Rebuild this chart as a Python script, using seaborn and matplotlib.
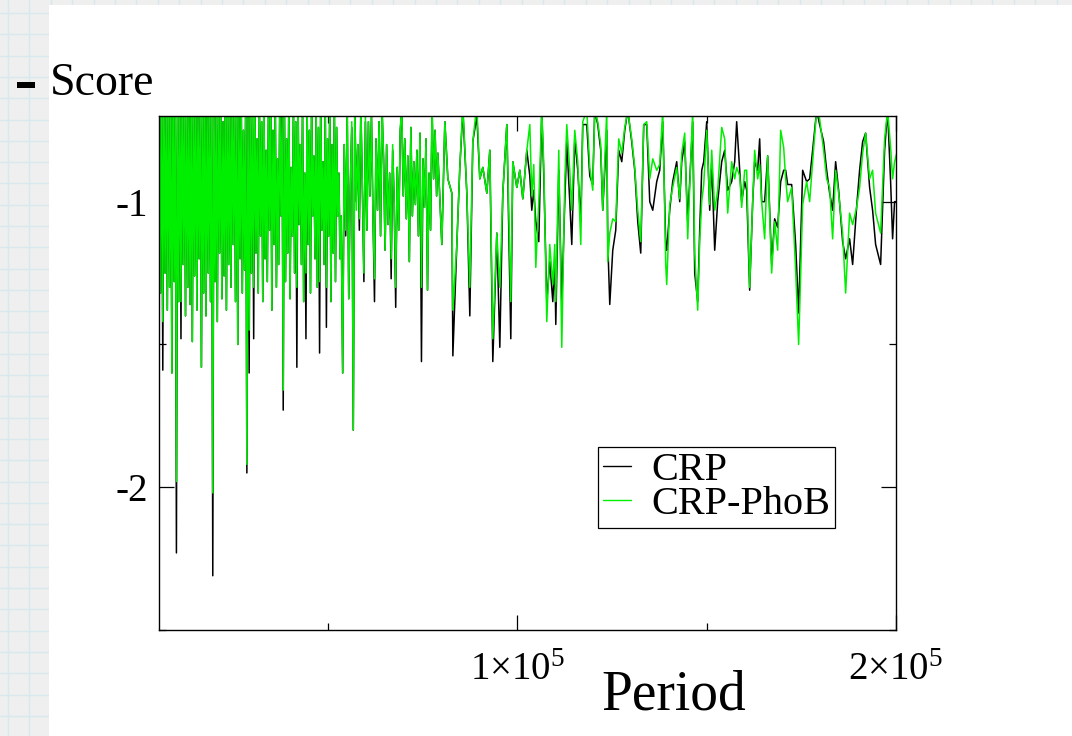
import numpy as np
import pandas as pd
import seaborn as sns
import matplotlib.pyplot as plt
import matplotlib.ticker as mticker
from matplotlib.lines import Line2D
from matplotlib.patches import Rectangle

# Period values are kept in thousands (x1000 when plotted)

# short periods: very dense part of the scan
period_a = [
    5.5, 5.8, 6.1, 6.4, 6.7, 7.0, 7.3, 7.6, 7.9, 8.2,
    8.5, 8.8, 9.1, 9.4, 9.7, 10.0, 10.3, 10.6, 10.9, 11.2,
    11.5, 11.8, 12.1, 12.4, 12.7, 13.0, 13.3, 13.6, 13.9, 14.2,
    14.5, 14.8, 15.1, 15.4, 15.7, 16.0, 16.3, 16.6, 16.9, 17.2,
    17.5, 17.8, 18.1, 18.4, 18.7, 19.0, 19.3, 19.6, 19.9, 20.2,
    20.5, 20.8, 21.1, 21.4, 21.7, 22.0, 22.3, 22.6, 22.9, 23.2,
    23.5, 23.8, 24.1, 24.4, 24.7, 25.0, 25.3, 25.6, 25.9, 26.2,
    26.5, 26.8, 27.1, 27.4, 27.7, 28.0, 28.3, 28.6, 28.9, 29.2,
    29.5, 29.8, 30.1, 30.4, 30.7, 31.0, 31.3, 31.6, 31.9, 32.2,
    32.5, 32.8, 33.1, 33.4, 33.7, 34.0, 34.3, 34.6, 34.9, 35.2,
    35.5, 35.8, 36.1, 36.4, 36.7, 37.0, 37.3, 37.6, 37.9, 38.2,
    38.5, 38.8, 39.1, 39.4, 39.7, 40.0, 40.3, 40.6, 40.9, 41.2,
    41.5, 41.8, 42.1, 42.4, 42.7, 43.0, 43.3, 43.6, 43.9, 44.2,
    44.5, 44.8, 45.1, 45.4, 45.7, 46.0, 46.3, 46.6, 46.9, 47.2,
    47.5, 47.8, 48.1, 48.4, 48.7, 49.0, 49.3, 49.6, 49.9, 50.2,
    50.5, 50.8, 51.1, 51.4, 51.7, 52.0, 52.3, 52.6, 52.9, 53.2,
]
phob_a = [
    -0.62, -1.32, -0.58, -1.42, -0.60, -1.25, -0.65, -1.38, -0.57, -1.30,
    -0.63, -1.60, -0.58, -1.28, -0.66, -1.98, -0.60, -1.35, -0.62, -1.35,
    -0.58, -1.22, -0.64, -1.40, -0.60, -1.30, -0.68, -1.36, -0.59, -1.49,
    -0.62, -1.26, -0.57, -1.38, -0.66, -1.20, -0.60, -1.58, -0.63, -1.32,
    -0.58, -1.40, -0.70, -1.25, -0.60, -1.35, -0.62, -2.02, -0.58, -1.28,
    -0.66, -1.42, -0.60, -1.18, -0.64, -1.34, -0.72, -1.26, -0.60, -1.38,
    -0.62, -1.22, -0.68, -1.30, -0.58, -1.15, -0.65, -1.35, -0.62, -1.50,
    -0.70, -1.20, -0.60, -1.32, -0.75, -1.24, -0.62, -1.92, -0.66, -1.45,
    -0.60, -1.25, -0.70, -1.30, -0.62, -1.18, -0.78, -1.32, -0.64, -1.12,
    -0.72, -1.35, -0.60, -1.20, -0.82, -1.28, -0.66, -1.10, -0.62, -1.38,
    -0.75, -1.15, -0.64, -1.30, -0.85, -1.22, -0.62, -1.05, -0.70, -1.66,
    -0.62, -1.28, -0.78, -1.18, -0.60, -1.34, -0.88, -1.12, -0.66, -1.25,
    -0.72, -1.30, -0.62, -1.08, -0.80, -1.22, -0.66, -1.35, -0.90, -1.25,
    -0.64, -1.15, -0.75, -1.32, -0.62, -1.05, -0.84, -1.20, -0.68, -1.30,
    -0.74, -1.28, -0.62, -1.10, -0.86, -1.22, -0.66, -1.30, -0.78, -1.12,
    -0.64, -1.35, -0.80, -1.18, -0.66, -1.28, -0.74, -1.05, -0.90, -1.20,
]
crp_a = [
    -0.62, -1.32, -0.58, -1.59, -0.60, -1.25, -0.65, -1.38, -0.57, -1.30,
    -0.63, -1.60, -0.58, -1.28, -0.66, -2.23, -0.60, -1.35, -0.62, -1.48,
    -0.58, -1.22, -0.64, -1.40, -0.60, -1.30, -0.68, -1.36, -0.59, -1.49,
    -0.62, -1.26, -0.57, -1.38, -0.66, -1.20, -0.60, -1.58, -0.63, -1.32,
    -0.58, -1.40, -0.70, -1.25, -0.60, -1.35, -0.62, -2.31, -0.58, -1.28,
    -0.66, -1.42, -0.60, -1.18, -0.64, -1.34, -0.72, -1.26, -0.60, -1.38,
    -0.62, -1.22, -0.68, -1.30, -0.58, -1.15, -0.65, -1.35, -0.62, -1.50,
    -0.70, -1.20, -0.60, -1.32, -0.75, -1.24, -0.62, -1.95, -0.66, -1.60,
    -0.60, -1.25, -0.70, -1.48, -0.62, -1.18, -0.78, -1.32, -0.64, -1.12,
    -0.72, -1.35, -0.60, -1.20, -0.82, -1.28, -0.66, -1.10, -0.62, -1.38,
    -0.75, -1.15, -0.64, -1.30, -0.85, -1.22, -0.62, -1.05, -0.70, -1.73,
    -0.62, -1.28, -0.78, -1.18, -0.60, -1.34, -0.88, -1.12, -0.66, -1.25,
    -0.72, -1.58, -0.62, -1.08, -0.80, -1.22, -0.66, -1.35, -0.90, -1.48,
    -0.64, -1.15, -0.75, -1.32, -0.62, -1.05, -0.84, -1.20, -0.68, -1.30,
    -0.74, -1.53, -0.62, -1.10, -0.86, -1.22, -0.66, -1.44, -0.78, -1.12,
    -0.64, -1.35, -0.80, -1.18, -0.66, -1.28, -0.74, -1.05, -0.90, -1.20,
]

# middle periods, still dense
period_b1 = [
    53.5, 53.9, 54.3, 54.7, 55.1, 55.5, 55.9, 56.3, 56.7, 57.1,
    57.5, 57.9, 58.3, 58.7, 59.1, 59.5, 59.9, 60.3, 60.7, 61.1,
    61.5, 61.9, 62.3, 62.7, 63.1, 63.5, 63.9, 64.3, 64.7, 65.1,
    65.5, 65.9, 66.3, 66.7, 67.1, 67.5, 67.9, 68.3, 68.7, 69.1,
    69.5, 69.9, 70.3, 70.7, 71.1, 71.5, 71.9, 72.3, 72.7, 73.1,
    73.5, 73.9, 74.3, 74.7, 75.1, 75.5, 75.9, 76.3, 76.7, 77.1,
    77.5, 77.9, 78.3, 78.7,
]
phob_b1 = [
    -1.05, -1.60, -0.80, -1.10, -0.66, -1.34, -0.95, -0.72, -1.80, -0.66,
    -1.03, -0.80, -1.06, -0.66, -0.95, -1.25, -0.70, -1.10, -0.72, -0.98,
    -0.70, -1.05, -1.27, -0.78, -1.03, -0.72, -1.12, -0.66, -0.85, -1.17,
    -0.80, -1.08, -0.90, -1.20, -0.80, -1.00, -1.30, -0.88, -1.10, -0.75,
    -0.66, -0.98, -0.78, -1.06, -0.84, -1.21, -0.74, -1.05, -0.86, -1.01,
    -0.82, -1.12, -0.76, -1.30, -0.85, -1.02, -0.78, -1.31, -0.90, -1.10,
    -0.66, -0.92, -0.75, -0.98,
]
crp_b1 = [
    -1.05, -1.60, -0.80, -1.12, -0.68, -1.34, -0.95, -0.74, -1.80, -0.66,
    -1.00, -0.80, -1.10, -0.68, -0.95, -1.28, -0.72, -1.10, -0.72, -0.98,
    -0.70, -1.05, -1.35, -0.78, -1.03, -0.72, -1.12, -0.68, -0.85, -1.17,
    -0.80, -1.08, -0.90, -1.27, -0.82, -1.00, -1.37, -0.88, -1.10, -0.75,
    -0.68, -0.98, -0.78, -1.06, -0.84, -1.21, -0.74, -1.05, -0.86, -1.01,
    -0.82, -1.12, -0.76, -1.56, -0.85, -1.02, -0.78, -1.31, -0.90, -1.10,
    -0.68, -0.92, -0.75, -0.98,
]

period_b2 = [
    79.03, 80.08, 80.88, 81.67, 82.72, 82.99, 84.04, 84.83, 85.63, 86.68,
    87.47, 88.26, 89.32, 90.11, 90.90, 91.96, 92.75, 93.54, 94.60, 95.39,
    96.18, 97.24, 98.29, 98.82, 99.88, 100.67, 101.46, 102.52,
]
phob_b2 = [
    -0.83, -1.15, -0.72, -0.92, -0.97, -1.38, -1.15, -0.88, -0.66, -0.97,
    -1.30, -0.79, -0.66, -0.92, -0.88, -0.97, -0.82, -1.48, -1.11, -1.30,
    -0.97, -0.73, -1.35, -0.86, -0.95, -0.89, -0.99, -0.82,
]
crp_b2 = [
    -0.83, -1.15, -0.72, -0.92, -0.97, -1.54, -1.15, -0.88, -0.68, -0.97,
    -1.40, -0.79, -0.70, -0.92, -0.88, -0.97, -0.82, -1.56, -1.11, -1.51,
    -0.97, -0.73, -1.48, -0.86, -0.95, -0.89, -0.99, -0.82,
]

# long periods
period_c = [
    103.31, 103.83, 104.36, 104.89, 105.68, 106.47, 107.00, 107.79, 108.58, 109.38,
    109.90, 110.17, 110.96, 111.75, 112.54, 113.07, 113.86, 114.39, 115.18, 115.97,
    116.77, 117.29, 118.35, 119.14, 119.93, 120.46, 121.25, 122.04, 122.57, 123.63,
    123.89, 124.42, 125.21, 126.00, 126.79, 127.59, 128.38, 129.17, 130.22, 131.02,
    131.81, 132.60, 133.39, 134.18, 134.98, 135.77, 136.82, 137.61, 138.41, 139.20,
    139.46, 140.25, 141.04, 142.10, 142.89, 143.42, 144.21, 145.00, 146.32, 146.85,
    147.64, 148.17, 148.70, 149.23, 150.02, 150.81, 151.34, 152.13, 152.92, 153.98,
    154.77, 155.56, 156.61, 157.41, 157.93, 158.73, 159.25, 160.05, 160.57, 161.36,
    162.16, 162.68, 163.48, 164.00, 164.53, 165.32, 166.12, 167.17, 167.96, 168.75,
    169.55, 170.34, 170.87, 171.39, 172.45, 173.50, 174.30, 175.35, 176.41, 177.20,
    177.99, 179.05, 179.84, 180.89, 181.69, 182.48, 183.27, 184.06, 184.85, 185.91,
    186.70, 187.75, 188.55, 189.60, 190.39, 191.19, 191.98, 193.03, 193.82, 194.62,
    195.94, 196.99, 197.78, 198.58, 199.10, 199.63, 200.40,
]
phob_c = [
    -0.73, -0.98, -0.87, -1.23, -1.00, -0.68, -0.87, -1.42, -1.15, -1.29,
    -1.15, -1.35, -0.82, -1.51, -0.93, -0.73, -0.89, -1.03, -0.75, -0.86,
    -1.15, -0.72, -0.68, -0.88, -0.96, -0.68, -0.72, -0.80, -1.03, -0.68,
    -1.21, -1.11, -1.06, -1.07, -0.78, -0.83, -0.74, -0.68, -0.78, -0.88,
    -1.03, -1.14, -0.73, -0.72, -0.92, -0.85, -0.89, -0.87, -0.68, -1.22,
    -1.29, -1.01, -0.95, -0.88, -0.99, -0.83, -0.76, -1.13, -0.68, -1.18,
    -1.38, -1.14, -1.00, -0.94, -0.75, -1.01, -0.82, -1.03, -0.96, -0.74,
    -0.78, -1.04, -0.86, -0.92, -0.88, -0.91, -1.02, -0.89, -0.89, -1.30,
    -1.00, -0.82, -0.92, -0.87, -1.00, -1.13, -0.84, -1.25, -1.07, -1.17,
    -0.75, -0.81, -0.92, -1.00, -0.95, -1.24, -1.50, -1.01, -0.93, -1.00,
    -0.86, -0.68, -0.71, -0.82, -0.92, -0.95, -1.13, -0.89, -0.97, -1.11,
    -1.32, -1.04, -1.08, -1.02, -0.95, -0.83, -0.76, -0.92, -0.89, -1.04,
    -1.11, -0.78, -0.68, -0.81, -0.92, -0.86, -0.82,
]
crp_c = [
    -0.91, -1.03, -0.96, -1.07, -1.14, -0.68, -0.91, -1.35, -1.21, -1.35,
    -1.21, -1.43, -0.89, -1.36, -1.00, -0.79, -1.00, -1.15, -0.78, -0.89,
    -1.07, -0.73, -0.73, -0.91, -0.94, -0.68, -0.73, -0.82, -1.03, -0.75,
    -1.14, -1.36, -1.17, -1.10, -0.82, -0.86, -0.75, -0.68, -0.79, -0.89,
    -1.07, -1.18, -0.73, -0.73, -1.00, -1.03, -0.93, -0.89, -0.72, -1.15,
    -1.17, -1.03, -0.93, -0.86, -1.00, -0.86, -0.79, -1.07, -0.72, -1.25,
    -1.35, -1.10, -0.89, -0.86, -0.72, -1.03, -0.86, -1.17, -1.00, -0.86,
    -0.82, -0.96, -0.93, -0.86, -0.72, -0.89, -1.00, -0.93, -0.96, -1.31,
    -1.00, -0.86, -0.89, -0.78, -1.00, -1.00, -0.84, -1.22, -1.06, -1.09,
    -0.93, -0.89, -0.89, -0.94, -0.94, -1.15, -1.39, -0.89, -0.93, -0.92,
    -0.82, -0.68, -0.73, -0.79, -0.89, -0.97, -1.03, -0.86, -0.96, -1.14,
    -1.20, -1.13, -1.22, -1.02, -0.89, -0.79, -0.76, -0.95, -1.03, -1.15,
    -1.22, -0.82, -0.68, -0.93, -1.13, -1.00, -1.00,
]

x_ticks = [1e5, 2e5]
x_tick_labels = [r"$1{\times}10^{5}$", r"$2{\times}10^{5}$"]
y_ticks = [-2, -1]
y_tick_labels = ["-2", "-1"]

W, H = 1072, 736

sns.set_style("ticks")
plt.rcParams["font.family"] = ["Liberation Serif", "DejaVu Serif"]
plt.rcParams["mathtext.fontset"] = "custom"
plt.rcParams["mathtext.rm"] = "Liberation Serif"
plt.rcParams["mathtext.it"] = "Liberation Serif:italic"
plt.rcParams["mathtext.bf"] = "Liberation Serif:bold"
for key in ["text.color", "axes.labelcolor", "xtick.color", "ytick.color"]:
    plt.rcParams[key] = "black"

period_k = period_a + period_b1 + period_b2 + period_c
crp = crp_a + crp_b1 + crp_b2 + crp_c
phob = phob_a + phob_b1 + phob_b2 + phob_c
assert len(period_a) == len(crp_a) == len(phob_a)
assert len(period_b1) == len(crp_b1) == len(phob_b1)
assert len(period_b2) == len(crp_b2) == len(phob_b2)
assert len(period_c) == len(crp_c) == len(phob_c)

period = [p * 1000 for p in period_k]
df = pd.DataFrame(
    {
        "Period": period * 2,
        "Score": crp + phob,
        "series": ["CRP"] * len(period) + ["CRP-PhoB"] * len(period),
    }
)

fig = plt.figure(figsize=(W / 100, H / 100), dpi=100, facecolor="#efefef")

# grid-paper page behind the chart
for gx in np.arange(8, W, 21.4):
    fig.add_artist(Line2D([gx / W, gx / W], [0, 1], color="#d8e9ee", lw=1.0, zorder=-20))
for gy in np.arange(13, H, 21.3):
    fig.add_artist(Line2D([0, 1], [1 - gy / H, 1 - gy / H], color="#d8e9ee", lw=1.0, zorder=-20))
fig.add_artist(
    Rectangle((49 / W, 0), 1 - 49 / W, 1 - 5 / H, facecolor="white",
              edgecolor="none", transform=fig.transFigure, zorder=-10)
)

ax = fig.add_axes([159 / W, 1 - 630 / H, (896 - 159) / W, (630 - 116) / H])

sns.lineplot(
    data=df, x="Period", y="Score", hue="series",
    palette={"CRP": "black", "CRP-PhoB": "#00ee00"},
    estimator=None, sort=False, linewidth=1.1, ax=ax,
)

ax.set_xlim(5400, 200000)
ax.set_ylim(-2.5, -0.7)
ax.set_xlabel("")
ax.set_ylabel("")

ax.xaxis.set_major_locator(mticker.FixedLocator(x_ticks))
ax.xaxis.set_major_formatter(mticker.FixedFormatter(x_tick_labels))
ax.xaxis.set_minor_locator(mticker.FixedLocator([5e4, 1.5e5]))
ax.yaxis.set_major_locator(mticker.FixedLocator(y_ticks))
ax.yaxis.set_major_formatter(mticker.FixedFormatter(y_tick_labels))
ax.yaxis.set_minor_locator(mticker.FixedLocator([-2.5, -1.5]))

ax.tick_params(which="both", direction="in", top=True, right=True,
               color="black", width=0.9)
ax.tick_params(which="major", length=10.5, labelsize=28)
ax.tick_params(which="minor", length=5)
ax.tick_params(axis="x", pad=16)
ax.tick_params(axis="y", pad=8)

for s in ax.spines.values():
    s.set_color("black")
    s.set_linewidth(1.0)

leg = ax.legend(
    loc="upper left", bbox_to_anchor=((598 - 159) / 737, (630 - 447) / 514),
    fontsize=29, frameon=True, fancybox=False, framealpha=1,
    edgecolor="black", handlelength=0.7, handletextpad=0.5,
    borderpad=0.12, labelspacing=-0.08, borderaxespad=0,
)
leg.get_frame().set_linewidth(0.9)
for ln in leg.get_lines():
    ln.set_linewidth(1.0)

fig.text(50 / W, 1 - 95 / H, "Score", fontsize=33, va="baseline")
fig.add_artist(
    Rectangle((17 / W, 1 - 88 / H), 18 / W, 6 / H, facecolor="black",
              edgecolor="none", transform=fig.transFigure)
)
fig.text(674 / W, 1 - 710 / H, "Period", fontsize=40, ha="center", va="baseline")

fig.savefig("out.png", dpi=100, facecolor=fig.get_facecolor())
